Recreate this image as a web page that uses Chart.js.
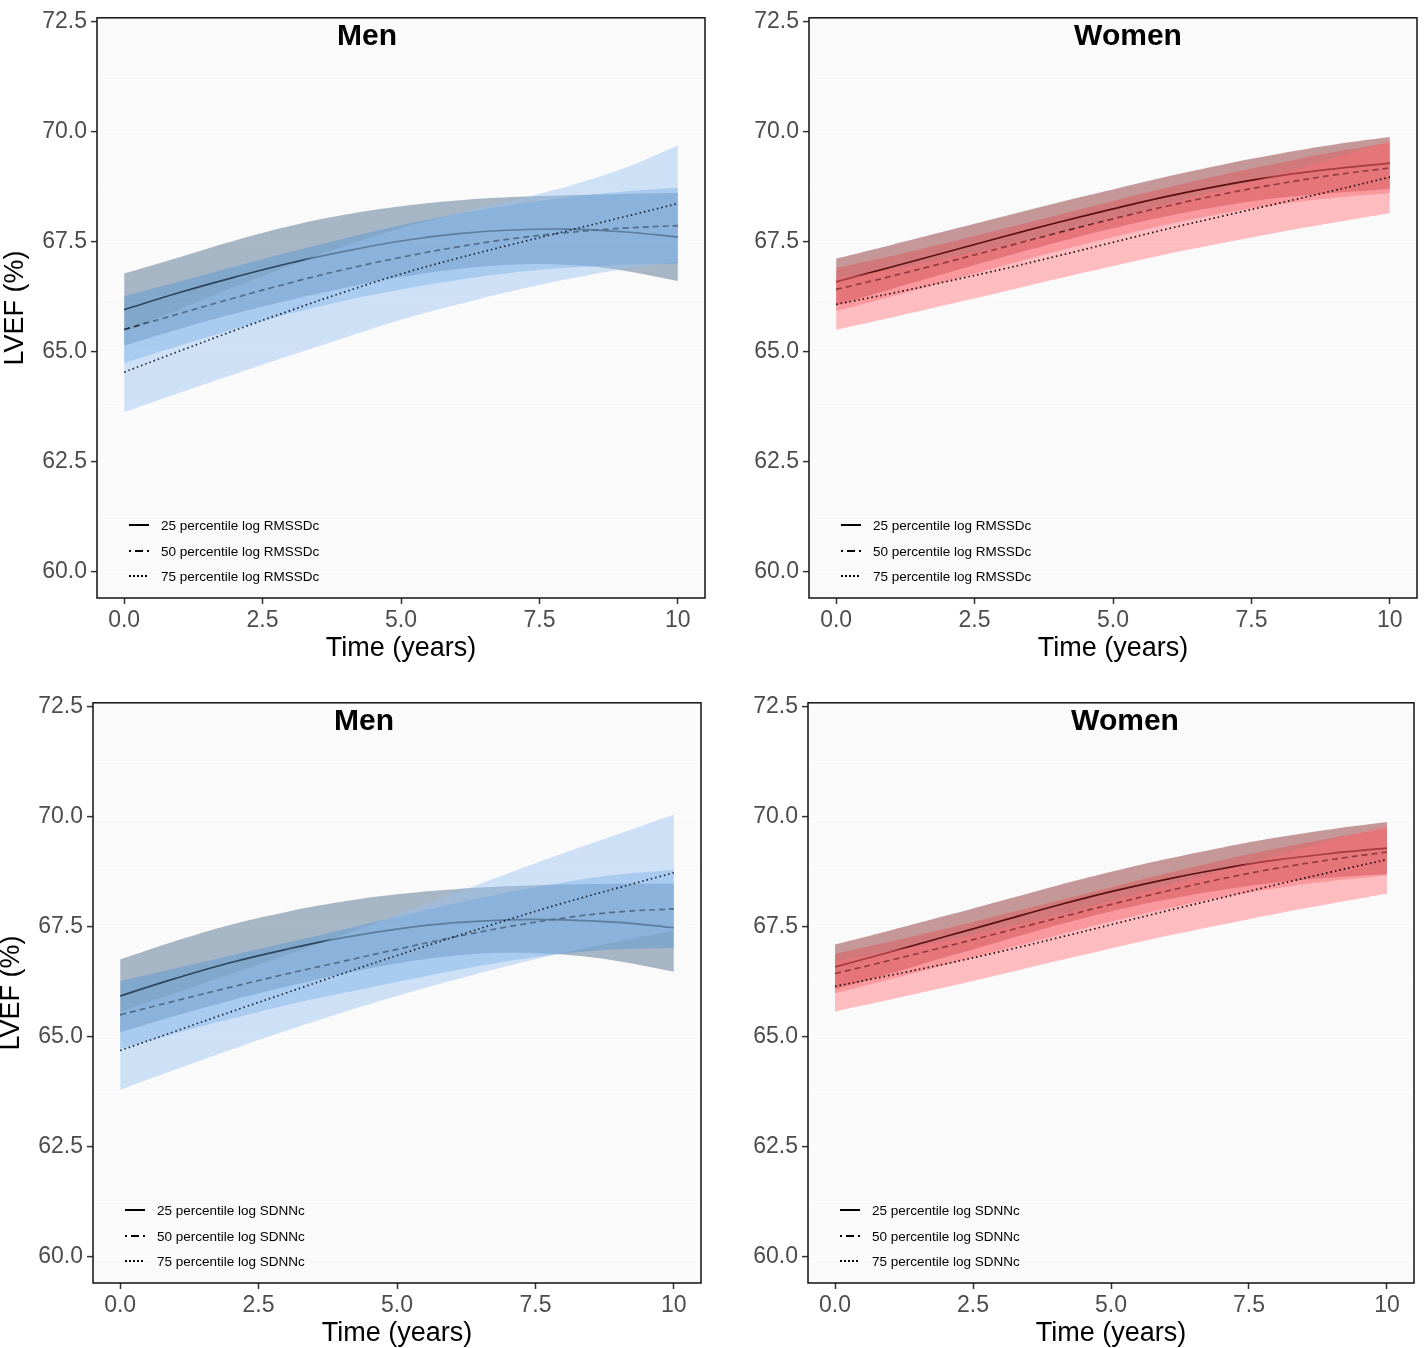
<!DOCTYPE html>
<html><head><meta charset="utf-8">
<script src="https://cdn.jsdelivr.net/npm/chart.js@4.4.1/dist/chart.umd.min.js"></script>
<style>
html,body{margin:0;padding:0;background:#fff;width:1424px;height:1348px;overflow:hidden;position:relative;}
canvas{position:absolute;}
</style></head><body>
<canvas id="c1" width="712" height="670" style="left:0px;top:0px"></canvas>
<canvas id="c2" width="712" height="670" style="left:712px;top:0px"></canvas>
<canvas id="c3" width="712" height="670" style="left:-4px;top:685px"></canvas>
<canvas id="c4" width="710" height="670" style="left:711px;top:685px"></canvas>
<script>
// ---- data ----
const years = [0,1,2,3,4,5,6,7,8,9,10];
const xTicks = [0, 2.5, 5, 7.5, 10];
const yTicks = [60, 62.5, 65, 67.5, 70, 72.5];
const titles = ["Men", "Women", "Men", "Women"];
const legendRMSSD = ["25 percentile log RMSSDc", "50 percentile log RMSSDc", "75 percentile log RMSSDc"];
const legendSDNN = ["25 percentile log SDNNc", "50 percentile log SDNNc", "75 percentile log SDNNc"];

// Men, RMSSD
const menR_p25 = [65.96, 66.35, 66.70, 67.02, 67.29, 67.52, 67.68, 67.77, 67.79, 67.73, 67.61];
const menR_p25_hi = [66.78, 67.15, 67.53, 67.86, 68.12, 68.31, 68.44, 68.52, 68.56, 68.59, 68.61];
const menR_p25_lo = [65.14, 65.52, 65.87, 66.18, 66.46, 66.70, 66.88, 66.98, 66.98, 66.85, 66.61];
const menR_p50 = [65.51, 65.87, 66.23, 66.57, 66.88, 67.15, 67.38, 67.57, 67.71, 67.81, 67.87];
const menR_p50_hi = [66.27, 66.60, 66.94, 67.27, 67.59, 67.88, 68.13, 68.34, 68.51, 68.64, 68.73];
const menR_p50_lo = [64.75, 65.14, 65.52, 65.87, 66.17, 66.42, 66.63, 66.80, 66.91, 66.98, 67.01];
const menR_p75 = [64.54, 65.02, 65.49, 65.94, 66.37, 66.77, 67.12, 67.44, 67.75, 68.06, 68.37];
const menR_p75_hi = [65.45, 65.97, 66.48, 66.96, 67.41, 67.81, 68.14, 68.44, 68.76, 69.16, 69.69];
const menR_p75_lo = [63.63, 64.07, 64.50, 64.92, 65.33, 65.73, 66.07, 66.38, 66.65, 66.88, 67.05];

// Women, RMSSD
const womR_p25 = [66.59, 66.93, 67.27, 67.61, 67.94, 68.25, 68.54, 68.79, 69.00, 69.16, 69.29];
const womR_p25_hi = [67.12, 67.43, 67.75, 68.07, 68.39, 68.69, 68.99, 69.26, 69.50, 69.71, 69.88];
const womR_p25_lo = [66.06, 66.43, 66.79, 67.15, 67.49, 67.81, 68.09, 68.32, 68.50, 68.61, 68.70];
const womR_p50 = [66.42, 66.72, 67.04, 67.37, 67.70, 68.02, 68.32, 68.59, 68.82, 69.02, 69.18];
const womR_p50_hi = [66.91, 67.18, 67.48, 67.79, 68.11, 68.43, 68.74, 69.03, 69.29, 69.54, 69.75];
const womR_p50_lo = [65.93, 66.26, 66.60, 66.95, 67.29, 67.61, 67.90, 68.15, 68.35, 68.50, 68.61];
const womR_p75 = [66.08, 66.33, 66.60, 66.88, 67.18, 67.49, 67.80, 68.09, 68.38, 68.67, 68.97];
const womR_p75_hi = [66.66, 66.88, 67.13, 67.40, 67.70, 68.03, 68.37, 68.70, 69.04, 69.40, 69.79];
const womR_p75_lo = [65.50, 65.78, 66.07, 66.36, 66.66, 66.95, 67.23, 67.48, 67.72, 67.94, 68.15];

// Men, SDNN
const menS_p25 = [65.93, 66.33, 66.69, 66.99, 67.25, 67.45, 67.59, 67.66, 67.66, 67.60, 67.48];
const menS_p25_hi = [66.76, 67.18, 67.55, 67.84, 68.07, 68.24, 68.35, 68.42, 68.46, 68.48, 68.48];
const menS_p25_lo = [65.10, 65.48, 65.83, 66.14, 66.43, 66.67, 66.84, 66.91, 66.87, 66.72, 66.48];
const menS_p50 = [65.50, 65.82, 66.13, 66.43, 66.71, 66.99, 67.26, 67.50, 67.70, 67.84, 67.91];
const menS_p50_hi = [66.27, 66.56, 66.85, 67.14, 67.43, 67.73, 68.02, 68.28, 68.51, 68.69, 68.80];
const menS_p50_lo = [64.73, 65.08, 65.41, 65.72, 65.99, 66.25, 66.50, 66.72, 66.89, 66.99, 67.02];
const menS_p75 = [64.69, 65.13, 65.57, 66.00, 66.43, 66.85, 67.26, 67.66, 68.04, 68.39, 68.73];
const menS_p75_hi = [65.58, 66.00, 66.43, 66.86, 67.31, 67.77, 68.24, 68.71, 69.17, 69.61, 70.05];
const menS_p75_lo = [63.80, 64.26, 64.71, 65.14, 65.55, 65.93, 66.28, 66.61, 66.91, 67.17, 67.41];

// Women, SDNN
const womS_p25 = [66.59, 66.93, 67.28, 67.63, 67.98, 68.30, 68.58, 68.82, 69.02, 69.17, 69.29];
const womS_p25_hi = [67.10, 67.42, 67.75, 68.09, 68.43, 68.75, 69.04, 69.30, 69.53, 69.72, 69.88];
const womS_p25_lo = [66.08, 66.44, 66.81, 67.17, 67.53, 67.85, 68.12, 68.34, 68.51, 68.62, 68.70];
const womS_p50 = [66.44, 66.74, 67.05, 67.37, 67.69, 68.01, 68.31, 68.59, 68.83, 69.03, 69.20];
const womS_p50_hi = [66.89, 67.17, 67.46, 67.77, 68.08, 68.40, 68.71, 69.01, 69.28, 69.52, 69.73];
const womS_p50_lo = [65.99, 66.31, 66.64, 66.97, 67.30, 67.62, 67.91, 68.17, 68.38, 68.54, 68.67];
const womS_p75 = [66.15, 66.40, 66.66, 66.94, 67.24, 67.55, 67.86, 68.16, 68.46, 68.75, 69.03];
const womS_p75_hi = [66.72, 66.95, 67.19, 67.46, 67.76, 68.09, 68.43, 68.77, 69.12, 69.47, 69.81];
const womS_p75_lo = [65.58, 65.85, 66.13, 66.42, 66.72, 67.01, 67.29, 67.55, 67.80, 68.03, 68.25];

// ---- styles ----
const menStyle = {
  band: ['rgba(66,99,132,0.45)', 'rgba(60,140,215,0.35)', 'rgba(150,194,239,0.45)'],
  line: ['#2f465c', '#1d2b38', '#1b2733']
};
const womStyle = {
  band: ['rgba(140,50,50,0.49)', 'rgba(235,60,65,0.35)', 'rgba(255,112,121,0.45)'],
  line: ['#5c1111', '#3a1212', '#1a0a0a']
};
const dashes = [[], [6, 4], [1.5, 3]];
const legendDashes = [[], [8, 4], [2, 2]];
const legendDashOffsets = [0, 6, 0];

const pts = arr => years.map((t, i) => ({x: t, y: arr[i]}));

const panelBg = {
  id: 'panelBg',
  beforeDraw(chart) {
    const {ctx, chartArea: a} = chart;
    ctx.save();
    ctx.fillStyle = '#fafafa';
    ctx.fillRect(a.left, a.top, a.right - a.left, a.bottom - a.top);
    ctx.restore();
  },
  afterDraw(chart) {
    const {ctx, chartArea: a} = chart;
    ctx.save();
    ctx.strokeStyle = '#111';
    ctx.lineWidth = 1.5;
    ctx.strokeRect(a.left, a.top, a.right - a.left, a.bottom - a.top);
    ctx.restore();
  }
};

const innerText = {
  id: 'innerText',
  afterDatasetsDraw(chart, args, o) {
    const {ctx, chartArea: a} = chart;
    ctx.save();
    ctx.fillStyle = '#000';
    ctx.font = 'bold 30px "Liberation Sans", Arial, sans-serif';
    ctx.textAlign = 'center';
    ctx.textBaseline = 'middle';
    ctx.fillText(o.title, a.left + o.titleDx, a.top + 19);
    ctx.font = '13.5px "Liberation Sans", Arial, sans-serif';
    ctx.textAlign = 'left';
    o.labels.forEach((lab, i) => {
      const y = a.bottom - o.legendFromBottom[i];
      ctx.strokeStyle = '#000';
      ctx.lineWidth = 2;
      ctx.setLineDash(legendDashes[i]);
      ctx.lineDashOffset = legendDashOffsets[i];
      ctx.beginPath();
      ctx.moveTo(a.left + o.legendDx, y);
      ctx.lineTo(a.left + o.legendDx + 20, y);
      ctx.stroke();
      ctx.setLineDash([]);
      ctx.fillStyle = '#000';
      ctx.fillText(lab, a.left + o.legendDx + 32, y + 1);
    });
    ctx.restore();
  }
};

function makePanel(id, s) {
  const band = (lo, hi, color, oLo, oHi) => [
    {data: pts(lo), borderColor: 'transparent', borderWidth: 0, backgroundColor: 'transparent', fill: false, order: oLo},
    {data: pts(hi), borderColor: 'transparent', borderWidth: 0, backgroundColor: color, fill: '-1', order: oHi}
  ];
  const line = (arr, i, o) => ({data: pts(arr), borderColor: s.style.line[i], borderWidth: 1.7,
    borderDash: dashes[i], fill: false, order: o});
  const datasets = [
    ...band(s.lo[0], s.hi[0], s.style.band[0], 20, 19),
    ...band(s.lo[1], s.hi[1], s.style.band[1], 18, 17),
    line(s.mid[0], 0, 16),
    line(s.mid[1], 1, 15),
    ...band(s.lo[2], s.hi[2], s.style.band[2], 14, 13),
    line(s.mid[2], 2, 12)
  ];
  new Chart(document.getElementById(id), {
    type: 'line',
    data: {datasets},
    options: {
      responsive: false,
      animation: false,
      events: [],
      layout: {padding: {top: 16, right: 7, left: 0, bottom: 0}},
      elements: {
        point: {radius: 0, hoverRadius: 0},
        line: {tension: 0.4}
      },
      plugins: {
        legend: {display: false},
        tooltip: {enabled: false},
        innerText: {title: s.title, titleDx: s.titleDx, labels: s.labels, legendDx: 32, legendFromBottom: [73, 47, 22]}
      },
      scales: {
        x: {
          type: 'linear', min: -0.49, max: 10.49,
          afterBuildTicks: sc => { sc.ticks = xTicks.map(v => ({value: v})); },
          afterFit: sc => { sc.height = 72; },
          border: {display: false},
          grid: {drawOnChartArea: false, drawTicks: true, tickLength: 6, tickColor: '#333', tickWidth: 1.5},
          ticks: {color: '#4d4d4d', padding: 3, autoSkip: false, maxRotation: 0,
            font: {family: '"Liberation Sans", Arial, sans-serif', size: 23},
            callback: v => (v === 10 ? '10' : v.toFixed(1))},
          title: {display: true, text: 'Time (years)', color: '#000',
            font: {family: '"Liberation Sans", Arial, sans-serif', size: 27, lineHeight: 1},
            padding: {top: 0, bottom: 8}}
        },
        y: {
          type: 'linear', min: 59.41, max: 72.59,
          afterBuildTicks: sc => {
            const t = [];
            yTicks.forEach((v, i) => { t.push({value: v}); if (i < yTicks.length - 1) t.push({value: (v + yTicks[i + 1]) / 2, minor: true}); });
            sc.ticks = t;
          },
          afterFit: sc => { sc.width = 97; },
          border: {display: false},
          grid: {drawOnChartArea: true, drawTicks: true, tickLength: 6, lineWidth: 1.2,
            color: '#ffffff',
            tickColor: c => (yTicks.includes(c.tick && c.tick.value) ? '#333' : 'rgba(0,0,0,0)'),
            tickWidth: 1.5},
          ticks: {color: '#4d4d4d', padding: 4, autoSkip: false,
            font: {family: '"Liberation Sans", Arial, sans-serif', size: 23},
            callback: v => (yTicks.includes(v) ? v.toFixed(1) : '')},
          title: {display: s.yTitle, text: 'LVEF (%)', color: '#000',
            font: {family: '"Liberation Sans", Arial, sans-serif', size: 27, lineHeight: 1},
            padding: {top: 2, bottom: 0}}
        }
      }
    },
    plugins: [panelBg, innerText]
  });
}

makePanel('c1', {title: titles[0], titleDx: 270, labels: legendRMSSD, style: menStyle, yTitle: true,
  mid: [menR_p25, menR_p50, menR_p75], lo: [menR_p25_lo, menR_p50_lo, menR_p75_lo], hi: [menR_p25_hi, menR_p50_hi, menR_p75_hi]});
makePanel('c2', {title: titles[1], titleDx: 319, labels: legendRMSSD, style: womStyle, yTitle: false,
  mid: [womR_p25, womR_p50, womR_p75], lo: [womR_p25_lo, womR_p50_lo, womR_p75_lo], hi: [womR_p25_hi, womR_p50_hi, womR_p75_hi]});
makePanel('c3', {title: titles[2], titleDx: 271, labels: legendSDNN, style: menStyle, yTitle: true,
  mid: [menS_p25, menS_p50, menS_p75], lo: [menS_p25_lo, menS_p50_lo, menS_p75_lo], hi: [menS_p25_hi, menS_p50_hi, menS_p75_hi]});
makePanel('c4', {title: titles[3], titleDx: 317, labels: legendSDNN, style: womStyle, yTitle: false,
  mid: [womS_p25, womS_p50, womS_p75], lo: [womS_p25_lo, womS_p50_lo, womS_p75_lo], hi: [womS_p25_hi, womS_p50_hi, womS_p75_hi]});
</script>
</body></html>
